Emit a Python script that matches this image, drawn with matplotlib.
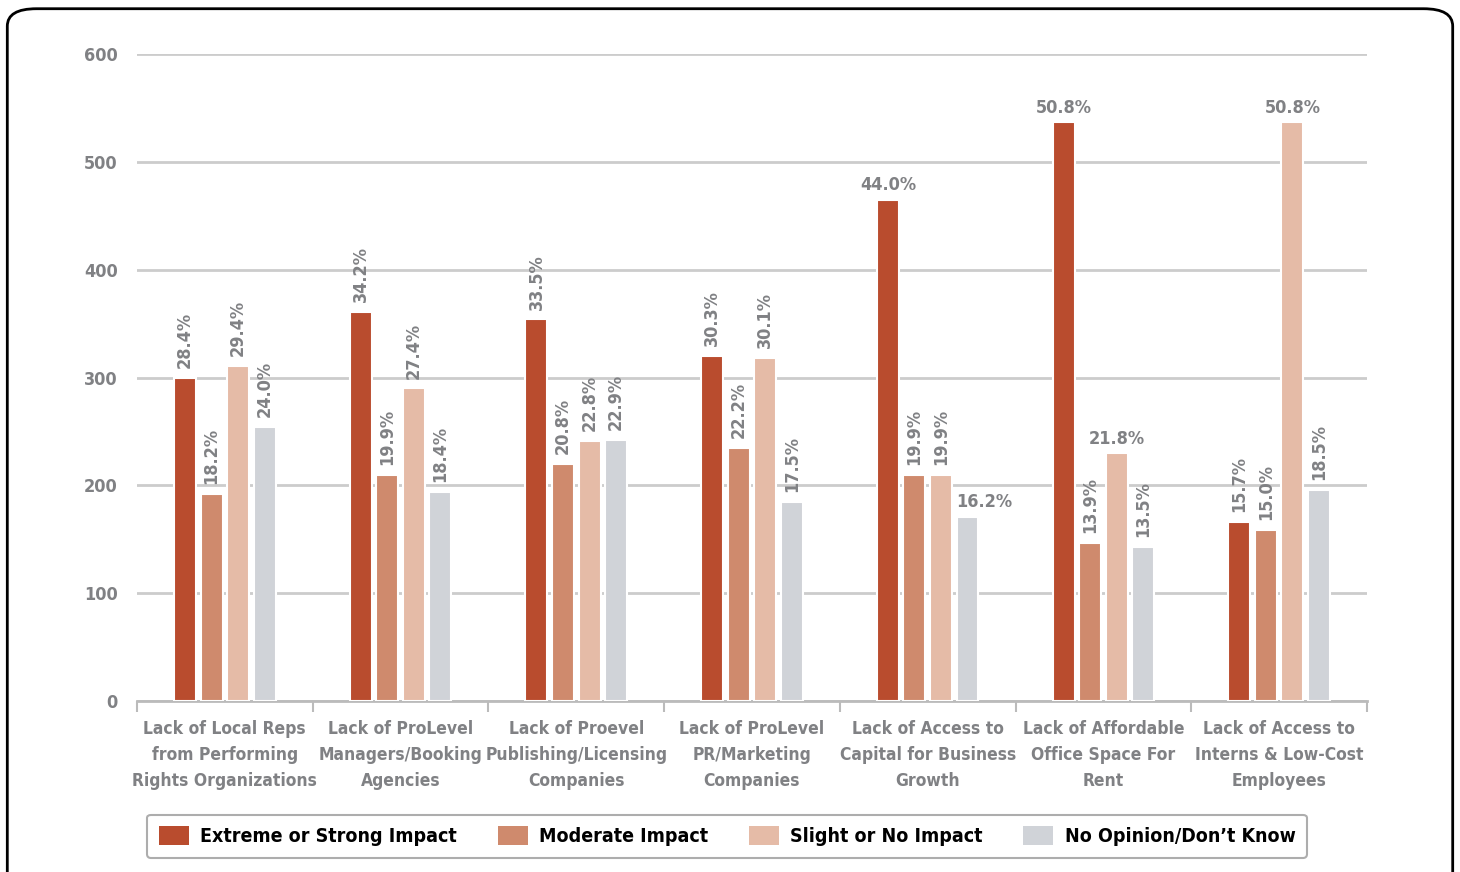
import matplotlib.pyplot as plt
import numpy as np
from matplotlib.patches import FancyBboxPatch, Patch

categorias = [
    "Lack of Local Reps\nfrom Performing\nRights Organizations",
    "Lack of ProLevel\nManagers/Booking\nAgencies",
    "Lack of Proevel\nPublishing/Licensing\nCompanies",
    "Lack of ProLevel\nPR/Marketing\nCompanies",
    "Lack of Access to\nCapital for Business\nGrowth",
    "Lack of Affordable\nOffice Space For\nRent",
    "Lack of Access to\nInterns & Low-Cost\nEmployees",
]

series = ["Extreme or Strong Impact", "Moderate Impact",
          "Slight or No Impact", "No Opinion/Don\u2019t Know"]
colores = ["#b94c2e", "#cf8a6d", "#e5bba7", "#d0d3d8"]

# conteos
extremo = [300, 361, 354, 320, 465, 537, 166]
moderado = [192, 210, 220, 235, 210, 147, 159]
leve = [311, 290, 241, 318, 210, 230, 537]
sin_op = [254, 194, 242, 185, 171, 143, 196]

# porcentajes de las etiquetas
pct_extremo = ["28.4%", "34.2%", "33.5%", "30.3%", "44.0%", "50.8%", "15.7%"]
pct_moderado = ["18.2%", "19.9%", "20.8%", "22.2%", "19.9%", "13.9%", "15.0%"]
pct_leve = ["29.4%", "27.4%", "22.8%", "30.1%", "19.9%", "21.8%", "50.8%"]
pct_sin_op = ["24.0%", "18.4%", "22.9%", "17.5%", "16.2%", "13.5%", "18.5%"]

# etiquetas horizontales (serie, categoria) -> alineacion
horizontales = {(0, 4): "center", (3, 4): "left", (0, 5): "center",
                (2, 5): "center", (2, 6): "center"}

valores = [extremo, moderado, leve, sin_op]
pcts = [pct_extremo, pct_moderado, pct_leve, pct_sin_op]

gris = "#808184"
plt.rcParams["font.family"] = ["DejaVu Sans"]
plt.rcParams["font.stretch"] = "condensed"
plt.rcParams["font.weight"] = "bold"

fig = plt.figure(figsize=(14.6, 8.72), dpi=100)
ax = fig.add_axes([0.0938, 0.1961, 0.8425, 0.7419])

x = np.arange(len(categorias))
ancho = 0.125
paso = 0.151
for i, (vals, col) in enumerate(zip(valores, colores)):
    pos = x + (i - 1.5) * paso
    ax.bar(pos, vals, width=ancho, color=col, edgecolor="white",
           linewidth=1.5, zorder=3)
    for j, (p, v) in enumerate(zip(pos, vals)):
        txt = pcts[i][j]
        if (i, j) in horizontales:
            ha = horizontales[(i, j)]
            xx = p if ha == "center" else p - ancho / 2
            ax.text(xx, v + 5, txt, ha=ha, va="bottom", fontsize=13,
                    color=gris, fontweight="bold", zorder=4)
        else:
            ax.text(p, v + 9, txt, ha="center", va="bottom", rotation=90,
                    fontsize=13, color=gris, fontweight="bold", zorder=4)

ax.set_xlim(-0.5, len(categorias) - 0.5)
ax.set_ylim(0, 600)
ax.set_yticks(range(0, 601, 100))
ax.yaxis.grid(True, color="#cccccc", linewidth=2, zorder=0)
ax.tick_params(axis="y", length=0, pad=14, labelsize=13, labelcolor=gris)
for lab in ax.get_yticklabels():
    lab.set_fontweight("bold")

ax.set_xticks(x)
ax.set_xticklabels(categorias, fontsize=12.5, color=gris, fontweight="bold",
                   linespacing=1.55)
ax.set_xticks(np.arange(-0.5, len(categorias)), minor=True)
ax.tick_params(axis="x", which="major", length=0, pad=14)
ax.tick_params(axis="x", which="minor", length=8, width=1.5, color="#bbbbbb")

for s in ["top", "right", "left"]:
    ax.spines[s].set_visible(False)
ax.spines["bottom"].set_color("#bbbbbb")
ax.spines["bottom"].set_linewidth(2)

handles = [Patch(facecolor=c, edgecolor="none") for c in colores]
leg = fig.legend(handles, series, loc="center", bbox_to_anchor=(0.498, 0.041),
                 ncol=4, frameon=True, fancybox=True, fontsize=14,
                 handlelength=1.55, handleheight=1.1, columnspacing=2.1,
                 handletextpad=0.57, borderpad=0.6, edgecolor="#999999")
leg.get_frame().set_linewidth(1.5)
for t in leg.get_texts():
    t.set_fontweight("bold")
    t.set_color("black")

caja = FancyBboxPatch((0.005, -0.05), 0.99, 1.04, transform=fig.transFigure,
                      boxstyle="round,pad=0,rounding_size=0.02",
                      facecolor="none", edgecolor="black", linewidth=2)
fig.patches.append(caja)

fig.savefig("out.png", dpi=100)
